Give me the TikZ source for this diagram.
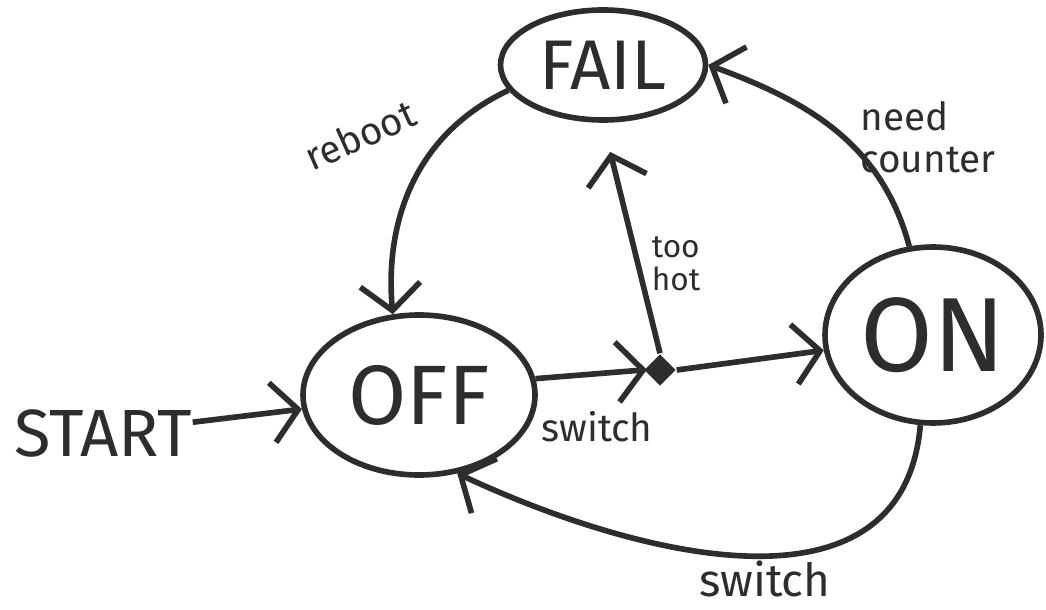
\documentclass[tikz,border=0pt]{standalone}
\usepackage{fontspec}
\setmainfont{Fira Sans}
\usetikzlibrary{shapes.geometric,arrows.meta,positioning}
\definecolor{pen}{RGB}{45,45,45}

\begin{document}
\begin{tikzpicture}[
  statenode/.style={ellipse,draw=pen,line width=1.6pt,inner sep=0pt,text=pen},
  edge/.style={draw=pen,line width=1.6pt,-{Straight Barb[length=2.6mm,width=6mm,line width=1.6pt]}},
  lbl/.style={text=pen,font=\fontsize{11}{12}\selectfont,inner sep=1pt}]
\useasboundingbox (0,0) rectangle (10.46,6.09);
% states
\node[statenode,minimum width=2.05cm,minimum height=1.1cm,font=\fontsize{20}{22}\selectfont] (fail) at (6.03,5.44) {FAIL};
\node[statenode,minimum width=2.32cm,minimum height=1.6cm,font=\fontsize{24}{26}\selectfont] (off) at (4.19,2.14) {OFF};
\node[statenode,minimum width=2.16cm,minimum height=1.76cm,font=\fontsize{30}{32}\selectfont] (on) at (9.33,2.74) {ON};
\node[diamond,fill=pen,inner sep=0pt,minimum size=0.32cm] (junc) at (6.60,2.39) {};
\node[text=pen,font=\fontsize{19}{22}\selectfont,inner sep=0pt] (start) at (1.03,1.76) {START};
% transitions
\draw[edge] (start) -- (off);
\draw[edge,shorten >=-1pt] (off.8) -- (junc.west);
\draw[edge,shorten >=3mm] (junc.north) -- (fail.south);
\draw[edge] (junc.east) -- (on.188);
\draw[edge] (fail.195) to[out=205,in=95] (off.108);
\draw[edge] (on.105) to[out=105,in=-20] (fail.east);
\draw[edge] (on.262) to[out=-95,in=-25,looseness=1.1] (off.296);
% labels
\node[lbl,rotate=24] (lreboot) at (3.60,4.74) {reboot};
\node[lbl,align=left] (lneed) at (9.28,4.72) {need\\counter};
\node[lbl,align=left,font=\fontsize{9}{9.5}\selectfont] (lhot) at (6.76,3.45) {too\\hot};
\node[lbl] (lsw1) at (5.97,1.82) {switch};
\node[lbl,font=\fontsize{13}{14}\selectfont] (lsw2) at (7.65,0.30) {switch};
\end{tikzpicture}
\end{document}
